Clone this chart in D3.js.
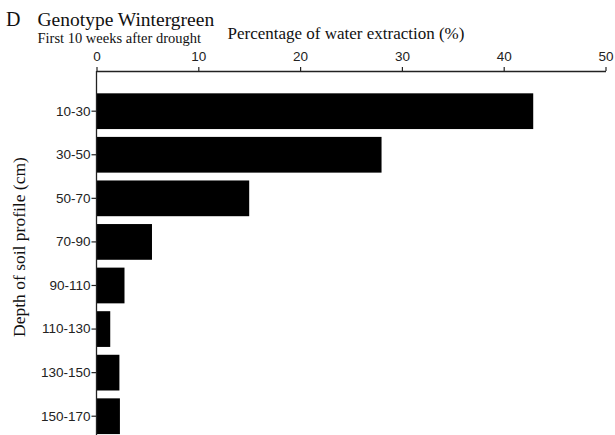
<!DOCTYPE html>
<html>
<head>
<meta charset="utf-8">
<script src="https://cdn.jsdelivr.net/npm/d3@7"></script>
<style>
  html, body { margin: 0; padding: 0; background: #fff; }
  svg { display: block; }
</style>
</head>
<body>
<svg id="chart" width="615" height="435"></svg>
<script>
// Soil depth layers (cm) and water extraction share (%) for each layer
const depths = ["10-30", "30-50", "50-70", "70-90", "90-110", "110-130", "130-150", "150-170"];
const extraction = [42.9, 28.0, 15.0, 5.45, 2.75, 1.35, 2.25, 2.3];
const xTicks = [0, 10, 20, 30, 40, 50];

const panelLetter = "D";
const title = "Genotype Wintergreen";
const subtitle = "First 10 weeks after drought";
const xTitle = "Percentage of water extraction (%)";
const yTitle = "Depth of soil profile (cm)";

const svg = d3.select("#chart");
const serif = "'Liberation Serif', 'Times New Roman', serif";
const sans = "'Liberation Sans', Arial, sans-serif";

const axisY = 71;
const x = d3.scaleLinear().domain([0, 50]).range([96.5, 605.5]);
const y = d3.scaleBand()
  .domain(depths)
  .range([89.4, 438.0])
  .paddingInner(0.18)
  .paddingOuter(0.09);

// Bars
svg.append("g")
  .selectAll("rect")
  .data(depths.map((d, i) => ({ depth: d, value: extraction[i] })))
  .join("rect")
  .attr("x", x(0))
  .attr("y", d => y(d.depth))
  .attr("width", d => x(d.value) - x(0))
  .attr("height", y.bandwidth())
  .attr("fill", "#000");

// Top value axis
const gx = svg.append("g")
  .attr("transform", `translate(0,${axisY})`)
  .call(d3.axisTop(x).tickValues(xTicks).tickSize(4).tickPadding(6).tickSizeOuter(0));
gx.select(".domain").attr("stroke", "#222").attr("stroke-width", 1.3);
gx.selectAll(".tick line").attr("stroke", "#222").attr("stroke-width", 1.2);
gx.selectAll(".tick text")
  .attr("font-family", sans).attr("font-size", 13.5).attr("fill", "#222");

// Left depth axis
const gy = svg.append("g")
  .attr("transform", `translate(${x(0)},0)`)
  .call(d3.axisLeft(y).tickSize(5).tickPadding(1).tickSizeOuter(0));
gy.select(".domain")
  .attr("d", `M0,${axisY}V${y.range()[1]}`)
  .attr("stroke", "#222").attr("stroke-width", 1.3);
gy.selectAll(".tick line").attr("stroke", "#222").attr("stroke-width", 1.2);
gy.selectAll(".tick text")
  .attr("font-family", sans).attr("font-size", 13.5).attr("fill", "#222");

// Titles
svg.append("text")
  .attr("x", 6).attr("y", 26)
  .attr("font-family", serif).attr("font-size", 20).attr("fill", "#111")
  .text(panelLetter);
svg.append("text")
  .attr("x", 37.5).attr("y", 26)
  .attr("font-family", serif).attr("font-size", 19.5).attr("fill", "#111")
  .text(title);
svg.append("text")
  .attr("x", 37.5).attr("y", 42.7)
  .attr("font-family", serif).attr("font-size", 14.5).attr("fill", "#111")
  .text(subtitle);
svg.append("text")
  .attr("x", 227.5).attr("y", 38.5)
  .attr("font-family", serif).attr("font-size", 17).attr("fill", "#111")
  .text(xTitle);
svg.append("text")
  .attr("transform", "translate(25,247) rotate(-90)")
  .attr("text-anchor", "middle")
  .attr("font-family", serif).attr("font-size", 17.5).attr("fill", "#111")
  .text(yTitle);
</script>
</body>
</html>
